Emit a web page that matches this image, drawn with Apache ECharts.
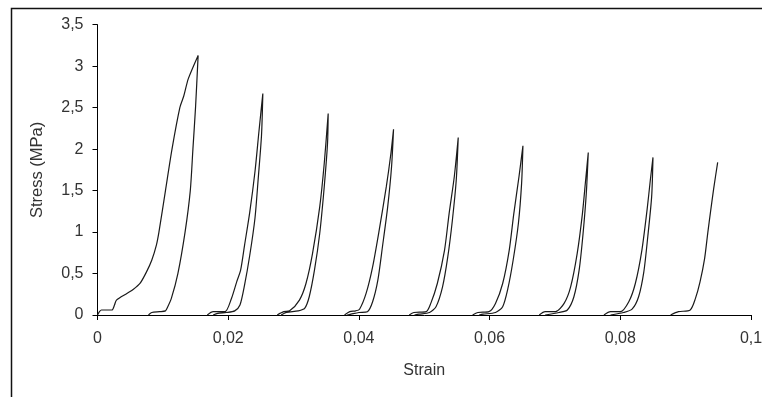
<!DOCTYPE html>
<html>
<head>
<meta charset="utf-8">
<script src="https://cdn.jsdelivr.net/npm/echarts@6/dist/echarts.min.js"></script>
<style>
html,body{margin:0;padding:0;background:#fff;}
#chart{width:762px;height:397px;}
</style>
</head>
<body>
<div id="chart"></div>
<script>
// Axis ticks
const xTicks = [0, 0.02, 0.04, 0.06, 0.08, 0.1];
const yTicks = [0, 0.5, 1, 1.5, 2, 2.5, 3, 3.5];

// Cycle 1 (loading then unloading)
const c1Strain = [0, 0.0003, 0.0006, 0.0022, 0.0026, 0.0029, 0.0045, 0.0055, 0.0065, 0.0075, 0.0083, 0.0090, 0.0094, 0.0104, 0.0114, 0.0126, 0.0132, 0.0139, 0.0154,
                  0.0150, 0.0146, 0.0142, 0.0134, 0.0123, 0.0113, 0.0107, 0.0104, 0.0095, 0.0083, 0.0078];
const c1Stress = [0, 0.04, 0.06, 0.06, 0.12, 0.18, 0.26, 0.31, 0.38, 0.52, 0.66, 0.84, 1.00, 1.50, 2.00, 2.50, 2.64, 2.85, 3.13,
                  2.50, 2.00, 1.50, 1.00, 0.50, 0.20, 0.09, 0.05, 0.04, 0.03, 0];
// Cycle 2
const c2Strain = [0.0168, 0.0177, 0.0195, 0.0205, 0.0213, 0.0219, 0.0225, 0.0233, 0.0241, 0.0247, 0.0253,
                  0.0251, 0.0246, 0.0241, 0.0233, 0.0225, 0.0218, 0.0210, 0.0197, 0.0184, 0.0177];
const c2Stress = [0, 0.04, 0.04, 0.20, 0.40, 0.54, 0.84, 1.24, 1.73, 2.21, 2.67,
                  2.17, 1.65, 1.17, 0.72, 0.36, 0.12, 0.05, 0.03, 0.02, 0];
// Cycle 3
const c3Strain = [0.0275, 0.0285, 0.0294, 0.0309, 0.0319, 0.0329, 0.0340, 0.0347, 0.0353,
                  0.0352, 0.0347, 0.0340, 0.0332, 0.0324, 0.0317, 0.0307, 0.0289, 0.0281];
const c3Stress = [0, 0.04, 0.05, 0.18, 0.38, 0.74, 1.30, 1.83, 2.43,
                  2.07, 1.55, 0.98, 0.54, 0.22, 0.08, 0.05, 0.03, 0];
// Cycle 4
const c4Strain = [0.0378, 0.0386, 0.0395, 0.0401, 0.0411, 0.0421, 0.0431, 0.0442, 0.0449, 0.0453,
                  0.0450, 0.0444, 0.0436, 0.0429, 0.0421, 0.0413, 0.0400, 0.0388, 0.0382];
const c4Stress = [0, 0.04, 0.05, 0.07, 0.26, 0.58, 1.02, 1.55, 1.95, 2.24,
                  1.79, 1.30, 0.82, 0.42, 0.16, 0.04, 0.03, 0.01, 0];
// Cycle 5
const c5Strain = [0.0477, 0.0484, 0.0503, 0.0510, 0.0520, 0.0531, 0.0538, 0.0546, 0.0552,
                  0.0549, 0.0543, 0.0536, 0.0528, 0.0518, 0.0508, 0.0492, 0.0485];
const c5Stress = [0, 0.03, 0.04, 0.14, 0.38, 0.78, 1.22, 1.67, 2.14,
                  1.63, 1.14, 0.70, 0.34, 0.10, 0.03, 0.01, 0];
// Cycle 6
const c6Strain = [0.0574, 0.0582, 0.0599, 0.0609, 0.0620, 0.0630, 0.0637, 0.0645, 0.0651,
                  0.0649, 0.0644, 0.0636, 0.0628, 0.0620, 0.0609, 0.0590, 0.0584];
const c6Stress = [0, 0.03, 0.04, 0.14, 0.38, 0.78, 1.22, 1.67, 2.04,
                  1.59, 1.10, 0.66, 0.32, 0.10, 0.03, 0.01, 0];
// Cycle 7
const c7Strain = [0.0676, 0.0685, 0.0701, 0.0714, 0.0724, 0.0734, 0.0742, 0.0747, 0.0751,
                  0.0748, 0.0743, 0.0737, 0.0729, 0.0719, 0.0706, 0.0685];
const c7Stress = [0, 0.04, 0.04, 0.14, 0.34, 0.74, 1.22, 1.63, 1.96,
                  1.47, 0.98, 0.54, 0.22, 0.06, 0.03, 0];
// Cycle 8
const c8Strain = [0.0775, 0.0785, 0.0800, 0.0813, 0.0823, 0.0833, 0.0841, 0.0846, 0.0850,
                  0.0848, 0.0842, 0.0836, 0.0828, 0.0818, 0.0805, 0.0785];
const c8Stress = [0, 0.04, 0.04, 0.16, 0.38, 0.78, 1.27, 1.63, 1.90,
                  1.43, 0.94, 0.52, 0.22, 0.07, 0.03, 0];
// Cycle 9 (loading only)
const c9Strain = [0.0877, 0.0889, 0.0907, 0.0915, 0.0922, 0.0929, 0.0934, 0.0938, 0.0943, 0.0949];
const c9Stress = [0, 0.04, 0.06, 0.20, 0.40, 0.68, 1.00, 1.24, 1.53, 1.84];

const cycles = [
  [c1Strain, c1Stress], [c2Strain, c2Stress], [c3Strain, c3Stress],
  [c4Strain, c4Stress], [c5Strain, c5Stress], [c6Strain, c6Stress],
  [c7Strain, c7Stress], [c8Strain, c8Stress], [c9Strain, c9Stress]
];

const fmt = v => String(Math.round(v * 1000) / 1000).replace('.', ',');
const textColor = '#333';
const fontFamily = '"Liberation Sans", Arial, sans-serif';

const chart = echarts.init(document.getElementById('chart'), null, {renderer: 'canvas'});
chart.setOption({
  animation: false,
  backgroundColor: '#fff',
  graphic: [{
    type: 'rect',
    shape: {x: 11.5, y: 8.5, width: 800, height: 450},
    style: {fill: 'none', stroke: '#111', lineWidth: 1.5},
    silent: true
  }],
  grid: {left: 97.5, right: 11, top: 24.7, bottom: 82, containLabel: false, outerBoundsMode: 'none'},
  xAxis: {
    type: 'value', min: xTicks[0], max: xTicks[xTicks.length - 1], interval: 0.02,
    name: 'Strain', nameLocation: 'middle', nameGap: 48,
    nameTextStyle: {color: textColor, fontSize: 16, fontFamily: fontFamily},
    axisLine: {show: true, onZero: false, lineStyle: {color: '#000', width: 1}},
    axisTick: {show: true, inside: false, length: 5, lineStyle: {color: '#000'}},
    axisLabel: {color: textColor, fontSize: 16, fontFamily: fontFamily, margin: 16, formatter: fmt, showMaxLabel: true, showMinLabel: true},
    splitLine: {show: false}
  },
  yAxis: {
    type: 'value', min: yTicks[0], max: yTicks[yTicks.length - 1], interval: 0.5,
    name: 'Stress (MPa)', nameLocation: 'middle', nameGap: 52,
    nameTextStyle: {color: textColor, fontSize: 16.5, fontFamily: fontFamily},
    axisLine: {show: true, lineStyle: {color: '#000', width: 1}},
    axisTick: {show: true, inside: false, length: 5, lineStyle: {color: '#000'}},
    axisLabel: {color: textColor, fontSize: 16, fontFamily: fontFamily, margin: 14, formatter: fmt},
    splitLine: {show: false}
  },
  series: cycles.map((c, i) => ({
    name: 'Cycle ' + (i + 1),
    type: 'line',
    data: c[0].map((x, j) => [x, c[1][j]]),
    showSymbol: false,
    smooth: 0.25,
    clip: false,
    lineStyle: {color: '#1a1a1a', width: 1.2}
  }))
});
</script>
</body>
</html>
